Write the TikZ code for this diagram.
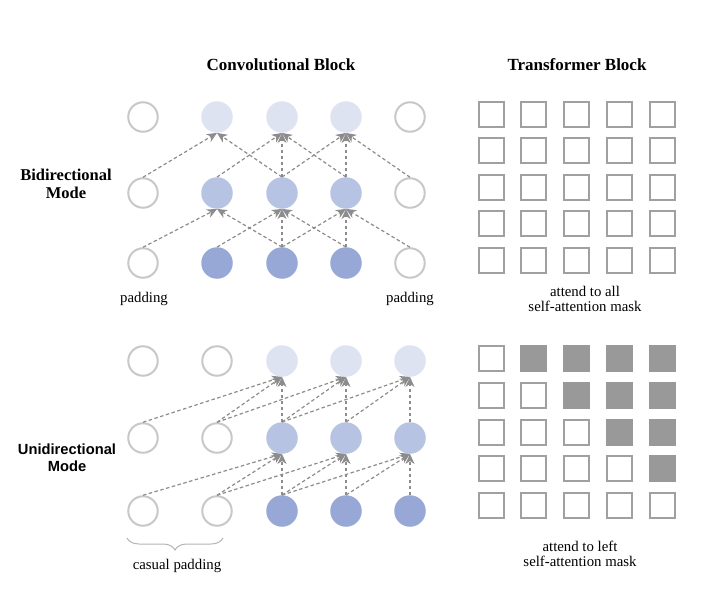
\documentclass[tikz,border=0pt]{standalone}
\usepackage{fontspec}
\setmainfont{Liberation Serif}
\newfontfamily\arialfont{Liberation Sans}
\usetikzlibrary{arrows.meta,decorations.pathreplacing}

\definecolor{padgray}{RGB}{200,200,200}
\definecolor{toprow}{RGB}{221,227,241}
\definecolor{midrow}{RGB}{183,195,227}
\definecolor{botrow}{RGB}{151,167,214}
\definecolor{arrowgray}{RGB}{140,140,140}
\definecolor{maskgray}{RGB}{153,153,153}
\definecolor{boxgray}{RGB}{160,160,160}

\begin{document}
\begin{tikzpicture}[x=1pt,y=-1pt]
\tikzset{
    pad/.style={circle, draw=padgray, line width=2pt, fill=white, minimum size=29.5pt, inner sep=0pt},
    unit/.style={circle, fill=#1, minimum size=31.5pt, inner sep=0pt},
    conn/.style={arrowgray, line width=1.2pt, dash pattern=on 3.5pt off 2.5pt,
        -{Stealth[length=10pt,width=9pt,inset=3pt]}},
    open mask/.style={draw=boxgray, line width=2pt, fill=white, minimum size=25pt, inner sep=0pt},
    closed mask/.style={fill=maskgray, minimum size=27pt, inner sep=0pt},
    title/.style={font=\fontsize{17}{20}\selectfont\bfseries},
    label/.style={font=\fontsize{14.8}{15.5}\selectfont, align=center}}
\useasboundingbox (0,0) rectangle (715,610);

% titles
\node[title] (convtitle) at (281,65) {Convolutional Block};
\node[title] (transtitle) at (577,65) {Transformer Block};
\node[font=\fontsize{16.5}{18.5}\selectfont\bfseries, align=center] (bimode) at (66,184) {Bidirectional\\Mode};
\node[font=\arialfont\fontsize{14.7}{16.8}\selectfont\bfseries, align=center] (unimode) at (67,458) {Unidirectional\\Mode};

% bidirectional mode
\node[pad] (bt0) at (143,117) {};
\node[pad] (bm0) at (143,193) {};
\node[pad] (bb0) at (143,263) {};
\node[pad] (bt4) at (410,117) {};
\node[pad] (bm4) at (410,193) {};
\node[pad] (bb4) at (410,263) {};
\foreach \c/\x in {1/217,2/282,3/346} {
    \node[unit=toprow] (bt\c) at (\x,117) {};
    \node[unit=midrow] (bm\c) at (\x,193) {};
    \node[unit=botrow] (bb\c) at (\x,263) {};
}
\foreach \s/\t in {0/1,2/1,1/2,2/2,3/2,2/3,3/3,4/3} {
    \draw[conn] (bb\s.north) -- (bm\t.south);
    \draw[conn] (bm\s.north) -- (bt\t.south);
}
\node[label] (padleft) at (144,299) {padding};
\node[label] (padright) at (410,299) {padding};

% unidirectional mode
\foreach \c/\x in {0/143,1/217} {
    \node[pad] (ut\c) at (\x,361) {};
    \node[pad] (um\c) at (\x,438) {};
    \node[pad] (ub\c) at (\x,511) {};
}
\foreach \c/\x in {2/282,3/346,4/410} {
    \node[unit=toprow] (ut\c) at (\x,361) {};
    \node[unit=midrow] (um\c) at (\x,438) {};
    \node[unit=botrow] (ub\c) at (\x,511) {};
}
\foreach \s/\t in {0/2,1/2,2/2,1/3,2/3,3/3,2/4,3/4,4/4} {
    \draw[conn] (ub\s.north) -- (um\t.south);
    \draw[conn] (um\s.north) -- (ut\t.south);
}
\coordinate (braceleft) at (127,538);
\coordinate (braceright) at (223,538);
\draw[padgray!90!black, line width=1pt, decorate,
    decoration={brace, mirror, amplitude=12pt}] (braceleft) -- (braceright);
\node[label] (causal) at (177,566) {casual padding};

% self-attention masks
\foreach \r in {0,...,4} {
    \foreach \c in {0,...,4} {
        \node[open mask] (all\r\c) at (491+42.75*\c, 114+36.5*\r) {};
        \ifnum\c>\r
            \node[closed mask] (left\r\c) at (491+42.75*\c, 358.7+36.7*\r) {};
        \else
            \node[open mask] (left\r\c) at (491+42.75*\c, 358.7+36.7*\r) {};
        \fi
    }
}
\node[label] (alltext) at (585,299) {attend to all\\self-attention mask};
\node[label] (lefttext) at (580,554) {attend to left\\self-attention mask};

\end{tikzpicture}
\end{document}
